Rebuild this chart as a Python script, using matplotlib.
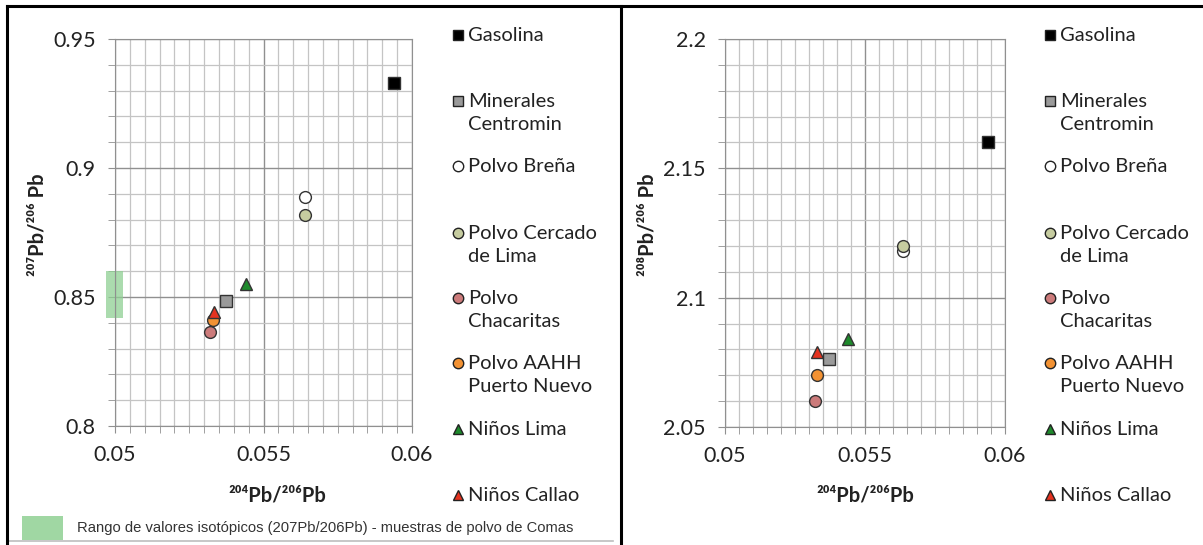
import numpy as np
import matplotlib
matplotlib.use("Agg")
import matplotlib.pyplot as plt
from matplotlib.lines import Line2D
from matplotlib.patches import Rectangle
from matplotlib.ticker import MultipleLocator

plt.rcParams['font.family'] = ['Lato', 'DejaVu Sans']

# series names, marker styles and fill colours
names = ["Gasolina", "Minerales\nCentromin", "Polvo Breña", "Polvo Cercado\nde Lima",
         "Polvo\nChacaritas", "Polvo AAHH\nPuerto Nuevo", "Niños Lima", "Niños Callao"]
markers = ["s", "s", "o", "o", "o", "o", "^", "^"]
fills = ["#000000", "#9a9a9a", "#ffffff", "#c6cca0", "#cc7b7b", "#f39233", "#1e8a2c", "#e5321f"]

# 204Pb/206Pb
x_left = [0.0594, 0.05374, 0.0564, 0.0564, 0.0532, 0.05331, 0.05441, 0.05333]
x_right = [0.0594, 0.05371, 0.05636, 0.05636, 0.0532, 0.05329, 0.05439, 0.05329]
# 207Pb/206Pb
y207 = [0.9329, 0.8486, 0.8888, 0.8818, 0.8365, 0.8412, 0.8550, 0.8442]
# 208Pb/206Pb
y208 = [2.1602, 2.0762, 2.1180, 2.1200, 2.0600, 2.0700, 2.0840, 2.0790]

# Comas dust 207Pb/206Pb range
comas_range = (0.842, 0.860)

W, H = 1203, 545
fig = plt.figure(figsize=(W / 100, H / 100), dpi=100)

def fx(px):
    return px / W

def fy(py):
    return 1 - py / H

def setup(ax, ylim, ymajor, yminor):
    ax.set_xlim(0.05, 0.06)
    ax.set_ylim(*ylim)
    ax.xaxis.set_major_locator(MultipleLocator(0.005))
    ax.xaxis.set_minor_locator(MultipleLocator(0.0005))
    ax.yaxis.set_major_locator(MultipleLocator(ymajor))
    ax.yaxis.set_minor_locator(MultipleLocator(yminor))
    ax.xaxis.set_major_formatter(plt.FuncFormatter(lambda v, p: ("%g" % round(v, 4))))
    ax.yaxis.set_major_formatter(plt.FuncFormatter(lambda v, p: ("%g" % round(v, 3))))
    ax.grid(which="major", color="#909090", lw=1.0)
    ax.grid(which="minor", color="#c4c4c4", lw=0.9)
    ax.set_axisbelow(True)
    for s in ax.spines.values():
        s.set_color("#909090")
    ax.tick_params(which="both", direction="out", length=5, color="#909090",
                   labelsize=15.5, colors="#222222")
    ax.tick_params(which="major", pad=9)
    ax.tick_params(which="minor", labelleft=False, labelbottom=False)

def scatter(ax, xs, ys):
    for x, y, m, c in zip(xs, ys, markers, fills):
        ms = 9 if m == "s" else 8.5
        ax.plot(x, y, marker=m, ms=ms, mfc=c, mec="#333333", mew=1.0,
                linestyle="none", zorder=3)

def legend(x_mark, x_text):
    rows = [35, 101, 166, 233, 298, 363, 429, 495]
    for name, m, c, r in zip(names, markers, fills, rows):
        fig.add_artist(Line2D([fx(x_mark)], [fy(r)], marker=m, ms=7.5, mfc=c,
                              mec="#222222", mew=1.0, transform=fig.transFigure))
        fig.text(fx(x_text), fy(r - 8), name, fontsize=14.5, va="top", ha="left",
                 color="#222222", linespacing=1.45)

# left panel: 207Pb/206Pb
ax1 = fig.add_axes([fx(115), fy(426), 297 / W, 387 / H])
setup(ax1, (0.8, 0.95), 0.05, 0.01)
ax1.add_patch(Rectangle((0.0497, comas_range[0]), 0.00057, comas_range[1] - comas_range[0],
                        color="#8fd093", alpha=0.75, lw=0, clip_on=False, zorder=2))
scatter(ax1, x_left, y207)
fig.text(fx(277), fy(496), "²⁰⁴Pb/²⁰⁶Pb", fontsize=14.5, fontweight="bold",
         ha="center", va="center", color="#222222")
fig.text(fx(37), fy(225), "²⁰⁷Pb/²⁰⁶ Pb", fontsize=14.5, fontweight="bold",
         rotation=90, ha="center", va="center", color="#222222")
legend(458, 468)

# right panel: 208Pb/206Pb
ax2 = fig.add_axes([fx(725), fy(427), 280 / W, 388 / H])
setup(ax2, (2.05, 2.2), 0.05, 0.01)
scatter(ax2, x_right, y208)
fig.text(fx(865), fy(495), "²⁰⁴Pb/²⁰⁶Pb", fontsize=14.5, fontweight="bold",
         ha="center", va="center", color="#222222")
fig.text(fx(648), fy(225), "²⁰⁸Pb/²⁰⁶ Pb", fontsize=14.5, fontweight="bold",
         rotation=90, ha="center", va="center", color="#222222")
legend(1050, 1060)

# note for the green band
fig.add_artist(Rectangle((fx(22), fy(540)), fx(41), 24 / H, color="#8fd093", alpha=0.85,
                         lw=0, transform=fig.transFigure))
fig.text(fx(77), fy(528), "Rango de valores isotópicos (207Pb/206Pb) - muestras de polvo de Comas",
         fontsize=10.6, family="Liberation Sans", va="center", ha="left", color="#333333")
fig.add_artist(Line2D([fx(7), fx(613)], [fy(541), fy(541)], color="#bdbdbd", lw=1.2,
                      transform=fig.transFigure))

# panel frames
frame = dict(color="black", lw=2.2, transform=fig.transFigure)
fig.add_artist(Line2D([fx(7), 1], [fy(6), fy(6)], **frame))
fig.add_artist(Line2D([fx(7), fx(7)], [fy(6), 0], **frame))
fig.add_artist(Line2D([fx(621), fx(621)], [fy(6), 0], **frame))

fig.savefig("out.png", dpi=100)
